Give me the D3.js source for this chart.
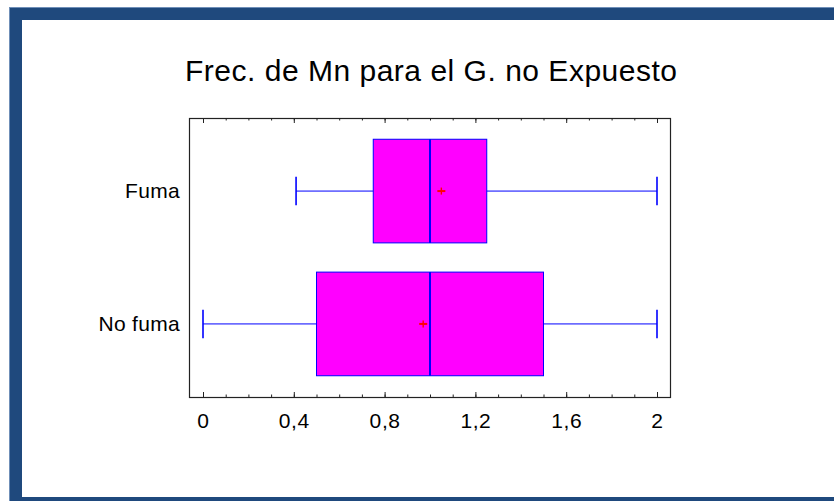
<!DOCTYPE html>
<html>
<head>
<meta charset="utf-8">
<script src="https://cdn.jsdelivr.net/npm/d3@7"></script>
<style>
  html, body { margin: 0; padding: 0; background: #fff; }
  svg { display: block; }
  text { font-family: "Liberation Sans", Arial, sans-serif; }
</style>
</head>
<body>
<svg id="chart" width="834" height="501"></svg>
<script>
// ---- data ----
const categories   = ["Fuma", "No fuma"];
const whiskerLow   = [0.41, 0.0];
const q1Values     = [0.75, 0.5];
const medianValues = [1.0, 1.0];
const q3Values     = [1.25, 1.5];
const whiskerHigh  = [2.0, 2.0];
const meanValues   = [1.05, 0.97];
const majorTicks   = [0, 0.4, 0.8, 1.2, 1.6, 2];
const minorTicks   = d3.range(0, 21).map(i => i / 10);
const titleText    = "Frec. de Mn para el G. no Expuesto";

const svg = d3.select("#chart");

// frame border
svg.append("rect")
  .attr("x", 16).attr("y", 14)
  .attr("width", 830).attr("height", 489)
  .attr("fill", "none")
  .attr("stroke", "#1F497D")
  .attr("stroke-width", 12);
svg.append("rect")
  .attr("x", 9.5).attr("y", 7.5)
  .attr("width", 840).attr("height", 500)
  .attr("fill", "none")
  .attr("stroke", "#6F8FB8")
  .attr("stroke-width", 1);

const plot = { left: 189, right: 670, top: 118, bottom: 397 };

const x = d3.scaleLinear()
  .domain([-14 / 227, 2 + 13 / 227])
  .range([plot.left, plot.right]);

const y = d3.scalePoint()
  .domain(categories)
  .range([plot.top, plot.bottom])
  .padding(0.55);

const step = y.step();
const boxH = step * 0.78;
const capH = step * 0.2;

// title
svg.append("text")
  .attr("x", 185).attr("y", 81)
  .attr("font-size", 30)
  .attr("textLength", 492)
  .attr("lengthAdjust", "spacing")
  .attr("fill", "#000")
  .text(titleText);

// plot frame
svg.append("rect")
  .attr("x", plot.left + 0.5).attr("y", plot.top + 0.5)
  .attr("width", plot.right - plot.left).attr("height", plot.bottom - plot.top)
  .attr("fill", "none")
  .attr("stroke", "#222")
  .attr("stroke-width", 1.2);

const fmt = d => String(d).replace(".", ",");

// bottom axis - minor ticks
const gMinB = svg.append("g").attr("transform", `translate(0,${plot.bottom})`)
  .call(d3.axisBottom(x).tickValues(minorTicks).tickSize(-2.5).tickFormat(""));
// bottom axis - major ticks
const gMajB = svg.append("g").attr("transform", `translate(0,${plot.bottom})`)
  .call(d3.axisBottom(x).tickValues(majorTicks).tickSize(-5).tickPadding(16).tickFormat(fmt));
// top axis
const gMinT = svg.append("g").attr("transform", `translate(0,${plot.top})`)
  .call(d3.axisTop(x).tickValues(minorTicks).tickSize(-2.5).tickFormat(""));
const gMajT = svg.append("g").attr("transform", `translate(0,${plot.top})`)
  .call(d3.axisTop(x).tickValues(majorTicks).tickSize(-5).tickFormat(""));

[gMinB, gMajB, gMinT, gMajT].forEach(g => {
  g.select(".domain").remove();
  g.selectAll(".tick line").attr("stroke", "#222").attr("stroke-width", 1);
});
gMajB.selectAll(".tick text")
  .attr("font-size", 21)
  .attr("letter-spacing", 0.6)
  .attr("fill", "#000")
  .attr("font-family", "Liberation Sans, Arial, sans-serif");

// left axis (category labels)
const gL = svg.append("g").attr("transform", `translate(${plot.left},0)`)
  .call(d3.axisLeft(y).tickSize(0).tickPadding(9));
gL.select(".domain").remove();
gL.selectAll(".tick text")
  .attr("font-size", 21)
  .attr("letter-spacing", 0.3)
  .attr("fill", "#000")
  .attr("font-family", "Liberation Sans, Arial, sans-serif");

// boxes
const rows = categories.map((c, i) => ({
  cat: c, lo: whiskerLow[i], q1: q1Values[i], med: medianValues[i],
  q3: q3Values[i], hi: whiskerHigh[i], mean: meanValues[i]
}));

const g = svg.append("g");
rows.forEach(d => {
  const cy = y(d.cat);
  // whiskers
  g.append("line").attr("x1", x(d.lo)).attr("x2", x(d.q1))
    .attr("y1", cy).attr("y2", cy).attr("stroke", "#0000FF").attr("stroke-width", 1);
  g.append("line").attr("x1", x(d.q3)).attr("x2", x(d.hi))
    .attr("y1", cy).attr("y2", cy).attr("stroke", "#0000FF").attr("stroke-width", 1);
  // caps
  [d.lo, d.hi].forEach(v => {
    g.append("line").attr("x1", x(v)).attr("x2", x(v))
      .attr("y1", cy - capH / 2 - 1).attr("y2", cy + capH / 2 + 1)
      .attr("stroke", "#0000FF").attr("stroke-width", 1.6);
  });
  // box
  g.append("rect")
    .attr("x", x(d.q1)).attr("y", cy - boxH / 2)
    .attr("width", x(d.q3) - x(d.q1)).attr("height", boxH)
    .attr("fill", "#FF00FF").attr("stroke", "#0000FF").attr("stroke-width", 1);
  // median
  g.append("line").attr("x1", x(d.med)).attr("x2", x(d.med))
    .attr("y1", cy - boxH / 2).attr("y2", cy + boxH / 2)
    .attr("stroke", "#0000FF").attr("stroke-width", 2);
  // mean marker
  const mx = x(d.mean);
  g.append("line").attr("x1", mx - 4).attr("x2", mx + 4)
    .attr("y1", cy).attr("y2", cy).attr("stroke", "#FF0000").attr("stroke-width", 2);
  g.append("line").attr("x1", mx).attr("x2", mx)
    .attr("y1", cy - 3.5).attr("y2", cy + 3.5).attr("stroke", "#FF0000").attr("stroke-width", 1.4);
});
</script>
</body>
</html>
